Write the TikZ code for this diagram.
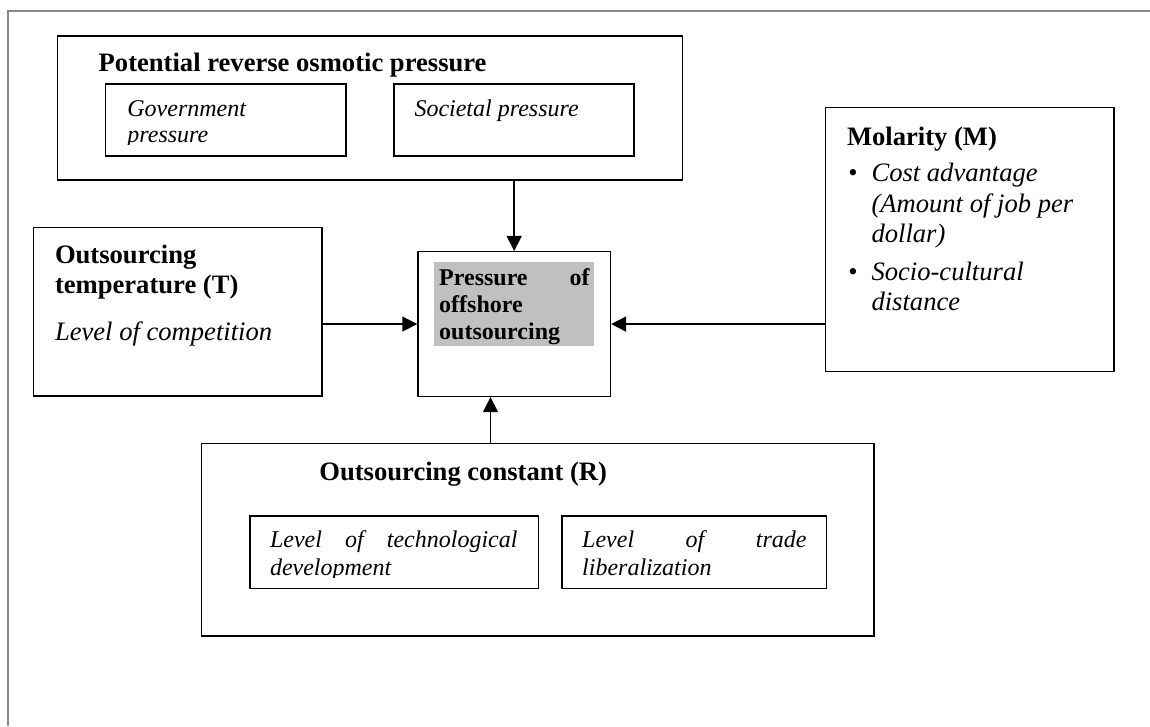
\documentclass[tikz,border=0pt]{standalone}
\usepackage{fontspec}
\setmainfont{Liberation Serif}
\usetikzlibrary{arrows.meta}
\definecolor{framegray}{RGB}{136,136,136}
\definecolor{shadegray}{RGB}{192,192,192}
\newcommand\szbig{\fontsize{26.6pt}{30pt}\selectfont}
\newcommand\szsmall{\fontsize{24pt}{27pt}\selectfont}
\begin{document}
\begin{tikzpicture}[x=1pt,y=-1pt,
 box/.style={draw, line width=1.5pt, rectangle, inner sep=0pt},
 txt/.style={anchor=base west, inner sep=0pt, outer sep=0pt},
 hb/.style={txt, font=\szbig\bfseries},
 ib/.style={txt, font=\szbig\itshape},
 is/.style={txt, font=\szsmall\itshape},
 bs/.style={txt, font=\szsmall\bfseries},
 bul/.style={anchor=base, inner sep=0pt, font=\szbig},
 arr/.style={line width=1.5pt, -{Triangle[length=15pt,width=15pt]}}]
\useasboundingbox (0,0) rectangle (1150,726);
% frame
\coordinate (fTL) at (8.4,10.7);
\coordinate (fTR) at (1150,10.7);
\coordinate (fBL) at (8.4,726);
\draw[framegray, line width=2pt] (fTR) -- (fTL) -- (fBL);
% boxes
\node[box, minimum width=624.9pt, minimum height=144pt] (pot) at (369.85,108) {};
\node[box, minimum width=240.2pt, minimum height=72pt] (gov) at (225.7,120) {};
\node[box, minimum width=240.4pt, minimum height=72pt] (soc) at (514,120) {};
\node[box, minimum width=288.5pt, minimum height=168.5pt] (temp) at (177.95,311.95) {};
\node[box, minimum width=192.4pt, minimum height=144.7pt] (ctr) at (514.2,324.05) {};
\node[fill=shadegray, inner sep=0pt, minimum width=160pt, minimum height=83.4pt] (shade) at (514,304) {};
\node[box, minimum width=288.5pt, minimum height=264pt] (mol) at (969.75,239.7) {};
\node[box, minimum width=672.4pt, minimum height=192.5pt] (bot) at (537.8,539.75) {};
\node[box, minimum width=288.2pt, minimum height=72.3pt] (tech) at (394.2,552.15) {};
\node[box, minimum width=264.4pt, minimum height=72.3pt] (trade) at (694.1,552.15) {};
% texts: top
\node[hb] (potT) at (98.7,71.7) {Potential reverse osmotic pressure};
\node[is] (gov1) at (127.4,116) {Government};
\begin{scope}
\clip (110,125) rectangle (340,144.5);
\node[is] (gov2) at (127.4,142) {pressure};
\end{scope}
\node[is] (soc1) at (414.5,116.7) {Societal pressure};
% temperature
\node[hb] (temp1) at (55,263.3) {Outsourcing};
\node[hb] (temp2) at (55,293.3) {temperature (T)};
\node[ib] (temp3) at (55,340) {Level of competition};
% centre
\node[bs] (ctr1) at (439.2,285) {\makebox[150.5pt][s]{Pressure\hfill of}};
\node[bs] (ctr2) at (439.2,312.3) {offshore};
\node[bs] (ctr3) at (439.2,339.3) {outsourcing};
% molarity
\node[hb] (mol0) at (847,145) {Molarity (M)};
\node[bul] (b1) at (853,181) {•};
\node[ib] (mol1) at (871.5,181) {Cost advantage};
\node[ib] (mol2) at (871.5,212) {(Amount of job per};
\node[ib] (mol3) at (871.5,242) {dollar)};
\node[bul] (b2) at (853,280) {•};
\node[ib] (mol4) at (871.5,280) {Socio-cultural};
\node[ib] (mol5) at (871.5,310) {distance};
% bottom
\node[hb] (botT) at (319.4,480) {Outsourcing constant (R)};
\node[is] (tech1) at (270,547.7) {\makebox[247.5pt][s]{Level\hfill of\hfill technological}};
\begin{scope}
\clip (255,555) rectangle (530,577);
\node[is] (tech2) at (270,575) {development};
\end{scope}
\node[is] (trade1) at (582.2,547.7) {\makebox[224.3pt][s]{Level\hfill of\hfill trade}};
\node[is] (trade2) at (582.2,575) {liberalization};
% connectors
\coordinate (bx) at (490.5,0);
\draw[arr] (pot.south -| ctr.north) -- (ctr.north);
\draw[arr] (temp.east |- ctr.center) -- (ctr.west);
\draw[arr] (mol.west |- ctr.center) -- (ctr.east);
\draw[arr] (bot.north -| bx) -- (ctr.south -| bx);
\end{tikzpicture}
\end{document}
